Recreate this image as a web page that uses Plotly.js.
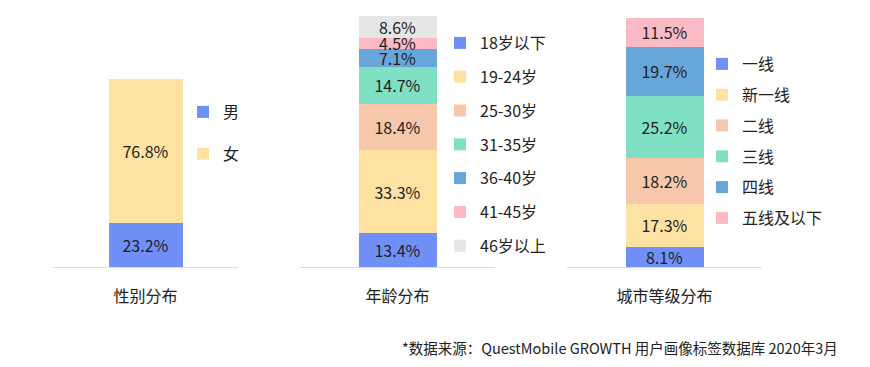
<!DOCTYPE html>
<html>
<head>
<meta charset="utf-8">
<script src="https://cdn.plot.ly/plotly-3.0.1.min.js"></script>
<style>html,body{margin:0;padding:0;background:#fff;}#chart{width:870px;height:367px;}</style>
</head>
<body>
<div id="chart"></div>
<script>
// ---- data ----
const genderCategory = ['性别分布'];
const genderNames = ['男', '女'];
const genderValues = [23.2, 76.8];

const ageCategory = ['年龄分布'];
const ageNames = ['18岁以下', '19-24岁', '25-30岁', '31-35岁', '36-40岁', '41-45岁', '46岁以上'];
const ageValues = [13.4, 33.3, 18.4, 14.7, 7.1, 4.5, 8.6];

const cityCategory = ['城市等级分布'];
const cityNames = ['一线', '新一线', '二线', '三线', '四线', '五线及以下'];
const cityValues = [8.1, 17.3, 18.2, 25.2, 19.7, 11.5];

const sourceText = '*数据来源：QuestMobile GROWTH 用户画像标签数据库 2020年3月';

// ---- styles ----
const palette = ['#7190f7', '#fde2a2', '#f6c7aa', '#80e0c3', '#68a6da', '#fcbac5', '#e6e6e6'];
const FONT = '"Noto Sans CJK SC", "Noto Sans", sans-serif';
const W = 870, H = 367;
const px = v => v / W;
const py = v => (H - v) / H;

const traces = [];
function addGroup(cat, names, values, xa, ya, legendId) {
  names.forEach((n, i) => {
    traces.push({
      type: 'bar',
      x: cat,
      y: [values[i]],
      name: n,
      xaxis: xa,
      yaxis: ya,
      legend: legendId,
      legendgroup: legendId + '_' + i,
      marker: { color: palette[i], line: { width: 0 } },
      width: 0.4,
      texttemplate: '%{y:.1f}%',
      textposition: 'inside',
      insidetextanchor: 'middle',
      constraintext: 'none',
      textfont: { size: 16, color: '#1e1e1e', family: FONT },
      hoverinfo: 'skip'
    });
  });
}
addGroup(genderCategory, genderNames, genderValues, 'x', 'y', 'legend');
addGroup(ageCategory, ageNames, ageValues, 'x2', 'y2', 'legend2');
addGroup(cityCategory, cityNames, cityValues, 'x3', 'y3', 'legend3');

const yDom = [py(267), py(16)];
function xAx(l, r, anchor) {
  return {
    domain: [px(l), px(r)],
    anchor: anchor,
    type: 'category',
    range: [-0.5, 0.5],
    showline: true, linecolor: '#dcdcdc', linewidth: 1,
    showgrid: false, zeroline: false, ticks: '',
    ticklabelstandoff: 15,
    tickfont: { size: 16, color: '#222', family: FONT },
    fixedrange: true
  };
}
function yAx(top, anchor) {
  return {
    domain: yDom, anchor: anchor, range: [0, top],
    visible: false, showgrid: false, zeroline: false, fixedrange: true
  };
}
function leg(x, y, gap) {
  return {
    x: px(x), y: py(y), xanchor: 'left', yanchor: 'top',
    traceorder: 'grouped', tracegroupgap: gap,
    font: { size: 16, color: '#222', family: FONT },
    bgcolor: 'rgba(0,0,0,0)', itemclick: false, itemdoubleclick: false
  };
}

const layout = {
  width: W, height: H,
  margin: { l: 0, r: 0, t: 0, b: 0 },
  paper_bgcolor: '#ffffff', plot_bgcolor: 'rgba(0,0,0,0)',
  barmode: 'stack',
  font: { family: FONT, color: '#222' },
  xaxis: xAx(53, 238, 'y'),
  xaxis2: xAx(300, 495, 'y2'),
  xaxis3: xAx(567, 762, 'y3'),
  yaxis: yAx(100 * 251 / 188, 'x'),
  yaxis2: yAx(100, 'x2'),
  yaxis3: yAx(100 * 251 / 249, 'x3'),
  showlegend: true,
  legend: leg(183, 95, 18),
  legend2: leg(440, 26, 10),
  legend3: leg(702, 47, 7),
  annotations: [{
    text: sourceText, xref: 'paper', yref: 'paper',
    x: px(840), y: py(347), xanchor: 'right', yanchor: 'middle',
    showarrow: false, font: { size: 14.5, color: '#222', family: FONT }
  }]
};

Plotly.newPlot('chart', traces, layout, { displayModeBar: false, staticPlot: true });
</script>
</body>
</html>
